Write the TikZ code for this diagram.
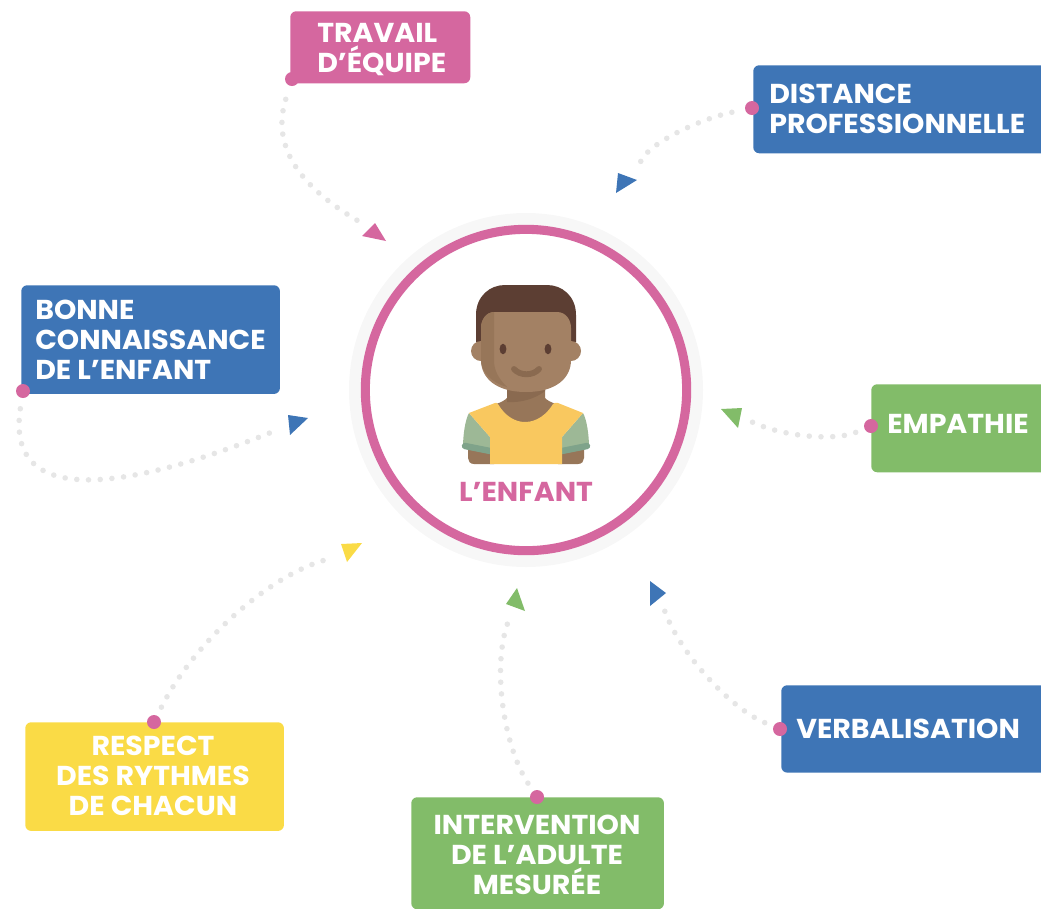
\documentclass[tikz,border=0pt]{standalone}
\usepackage{fontspec}
\setmainfont{Poppins}[BoldFont={Poppins Bold},BoldFeatures={FakeStretch=1.04}]
\definecolor{cpink}{HTML}{D5679F}
\definecolor{cblue}{HTML}{3E75B6}
\definecolor{cgreen}{HTML}{82BC69}
\definecolor{cyellow}{HTML}{FADB46}
\definecolor{cdots}{HTML}{E6E6E6}
\definecolor{chalo}{HTML}{F7F7F7}
\definecolor{hair}{HTML}{5C3E33}
\definecolor{skin}{HTML}{A38164}
\definecolor{skind}{HTML}{8A6A50}
\definecolor{skinm}{HTML}{977659}
\definecolor{shirt}{HTML}{F9C85F}
\definecolor{sleeve}{HTML}{9DB896}
\definecolor{cuff}{HTML}{7FA38A}
\tikzset{
  label/.style={font=\fontsize{20.5pt}{22.4pt}\selectfont\bfseries,text=white,align=left},
  dotn/.style={circle,fill=cpink,draw=none,inner sep=0pt,minimum size=10.5pt},
  dots/.style={draw=cdots,line width=4.2pt,line cap=round,dash pattern=on 0pt off 8.8pt},
  box/.style={rounded corners=4.5pt,draw=none}
}
\begin{document}
\begin{tikzpicture}[x=0.75pt,y=-0.75pt]
\useasboundingbox (0,0) rectangle (1041,908);
% central circles
\node[circle,fill=chalo,draw=none,minimum size=265.5pt,inner sep=0pt] (halo) at (526,390) {};
\node[circle,fill=white,draw=cpink,line width=6.8pt,minimum size=241pt,inner sep=0pt] (ring) at (526,390) {};
% child
\fill[hair] (476,342) -- (476,315) .. controls (476,296) and (490,285) .. (505,285) -- (547,285) .. controls (562,285) and (576,296) .. (576,315) -- (576,342) -- cycle;
\fill[skin] (481,351) circle (10);
\fill[skin] (571,351) circle (10);
% neck
\fill[skinm] (507,380) -- (545,380) -- (545,398) .. controls (547,400) and (550,402) .. (556,404) -- (556,440) -- (496,440) -- (496,404) .. controls (502,402) and (505,400) .. (507,398) -- cycle;
\fill[skind] (507,385) -- (545,385) -- (545,391) .. controls (535,399) and (520,403) .. (507,402) -- cycle;
% face
\fill[skin] (495,312) -- (557,312) .. controls (566,312) and (571,320) .. (571,328) -- (571,360) .. controls (571,378) and (556,392) .. (526,392) .. controls (496,392) and (481,378) .. (481,360) -- (481,328) .. controls (481,320) and (486,312) .. (495,312) -- cycle;
\fill[skinm] (494,312) .. controls (486,312) and (481,320) .. (481,328) -- (481,360) .. controls (481,372) and (492,383) .. (507,387) .. controls (498,378) and (494,370) .. (494,360) -- cycle;
\fill[hair] (503,349) ellipse (3.4 and 5.3);
\fill[hair] (548,349) ellipse (3.4 and 5.3);
\draw[skind,line width=4.4pt,line cap=round] (514,369) .. controls (520,376) and (533,376) .. (539,369);
% arms
\fill[skinm] (468,448) -- (494,448) -- (494,464) -- (474,464) .. controls (470,464) and (468,461) .. (468,458) -- cycle;
\fill[skinm] (558,448) -- (584,448) -- (584,458) .. controls (584,461) and (582,464) .. (578,464) -- (558,464) -- cycle;
% sleeves
\fill[sleeve] (469,413) -- (490,437) -- (491,450) -- (463,447) .. controls (463,436) and (465,420) .. (469,413) -- cycle;
\fill[sleeve] (583,413) -- (562,437) -- (561,450) -- (589,447) .. controls (589,436) and (587,420) .. (583,413) -- cycle;
\draw[cuff,line width=4.8pt,line cap=round] (465,446) -- (490,451);
\draw[cuff,line width=4.8pt,line cap=round] (587,446) -- (562,451);
% shirt
\fill[shirt] (469,413) -- (495,403) .. controls (496,402.5) and (497,403) .. (498,404) .. controls (505,416) and (515,422) .. (525,422) .. controls (537,422) and (547,414) .. (553,404) .. controls (554,402.5) and (556,402.5) .. (558,403) -- (583,413) -- (562,437) -- (562,464) -- (490,464) -- (490,437) -- cycle;
\node[font=\fontsize{20.5pt}{22pt}\selectfont\bfseries,text=cpink,inner sep=0pt] (title) at (526,492) {L’ENFANT};
% connector ends
\coordinate (tipT) at (360,222);
\coordinate (tipD) at (640,163);
\coordinate (tipB) at (277,430);
\coordinate (tipE) at (750,421);
\coordinate (tipV) at (664,609);
\coordinate (tipI) at (511,615);
\coordinate (tipR) at (333,558);
% boxes
\node[box,fill=cpink,minimum width=135pt,minimum height=54pt,inner sep=0pt,anchor=north west] (travail) at (290,11) {};
\node[label,anchor=west,inner sep=0pt] (travailt) at (317,49.5) {TRAVAIL\\D’ÉQUIPE};
\node[box,fill=cblue,minimum width=225pt,minimum height=66pt,inner sep=0pt,anchor=north west] (distance) at (753,65) {};
\node[label,anchor=west,inner sep=0pt] (distancet) at (769,108.5) {DISTANCE\\PROFESSIONNELLE};
\node[box,fill=cblue,minimum width=194pt,minimum height=81.5pt,inner sep=0pt,anchor=north west] (bonne) at (21,285) {};
\node[label,anchor=west,inner sep=0pt] (bonnet) at (35,340) {BONNE\\CONNAISSANCE\\DE L’ENFANT};
\node[box,fill=cgreen,minimum width=150pt,minimum height=66pt,inner sep=0pt,anchor=north west] (empathie) at (871,384) {};
\node[label,anchor=west,inner sep=0pt] (empathiet) at (887,424) {EMPATHIE};
\node[box,fill=cblue,minimum width=225pt,minimum height=65.5pt,inner sep=0pt,anchor=north west] (verbal) at (781,685) {};
\node[label,anchor=west,inner sep=0pt] (verbalt) at (796,729) {VERBALISATION};
\node[box,fill=cgreen,minimum width=189.5pt,minimum height=84pt,inner sep=0pt,anchor=north west] (interv) at (411,797) {};
\node[label,align=center,inner sep=0pt] (intervt) at (537,855) {INTERVENTION\\DE L’ADULTE\\MESURÉE};
\node[box,fill=cyellow,minimum width=194pt,minimum height=81.5pt,inner sep=0pt,anchor=north west] (respect) at (25,722) {};
\node[label,align=center,inner sep=0pt] (respectt) at (153,776) {RESPECT\\DES RYTHMES\\DE CHACUN};
% dots
\node[dotn] (dT) at (292,79) {};
\node[dotn] (dD) at (752,108) {};
\node[dotn] (dB) at (23,391) {};
\node[dotn] (dE) at (871,426) {};
\node[dotn] (dV) at (780,729) {};
\node[dotn] (dI) at (537,797) {};
\node[dotn] (dR) at (154,722) {};
% dotted curves
\draw[dots,shorten <=10.5pt] (dT) .. controls (270,150) and (305,190) .. (tipT);
\draw[dots,shorten <=10pt] (dD) .. controls (700,119) and (646,144) .. (tipD);
\draw[dots,shorten <=8pt] (dB) .. controls (5,510) and (130,490) .. (tipB);
\draw[dots,shorten <=7pt] (dE) .. controls (835,441) and (782,437) .. (tipE);
\draw[dots,shorten <=7pt] (dV) .. controls (732,709) and (680,655) .. (tipV);
\draw[dots,shorten <=7pt] (dI) .. controls (503,745) and (490,659) .. (tipI);
\draw[dots,shorten <=7pt] (dR) .. controls (195,640) and (275,570) .. (tipR);
% arrowheads
\fill[cpink] (375,223) -- (386,241) -- (362,236) -- cycle;
\fill[cblue] (618,173) -- (637,180) -- (616,193) -- cycle;
\fill[cblue] (288,415) -- (308,418) -- (290,435) -- cycle;
\fill[cgreen] (721,409) -- (742,408) -- (738,428) -- cycle;
\fill[cyellow] (341,544) -- (362,543) -- (347,562) -- cycle;
\fill[cgreen] (517,588) -- (525,611) -- (506,604) -- cycle;
\fill[cblue] (650,581) -- (666,593) -- (650,606) -- cycle;
\end{tikzpicture}
\end{document}
